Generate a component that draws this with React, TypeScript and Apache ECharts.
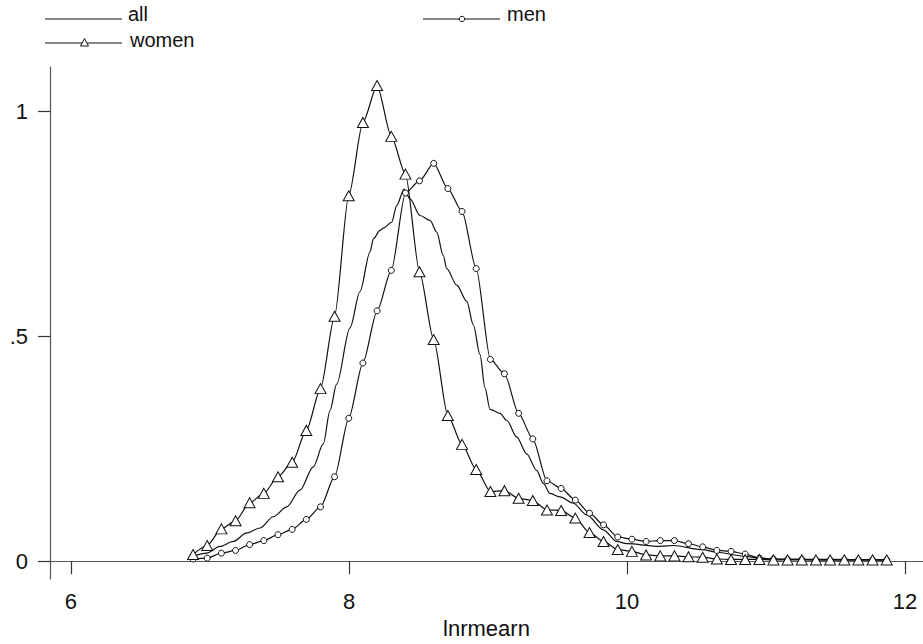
import React, { useEffect, useRef } from "react";
import * as echarts from "echarts";

// kernel density evaluation grid (50 points) shared by men / women
const gridX = [
  6.878, 6.98, 7.082, 7.184, 7.285, 7.387, 7.489, 7.591, 7.693, 7.795,
  7.896, 7.998, 8.1, 8.202, 8.304, 8.406, 8.507, 8.609, 8.711, 8.813,
  8.915, 9.017, 9.118, 9.22, 9.322, 9.424, 9.526, 9.628, 9.73, 9.831,
  9.933, 10.035, 10.137, 10.239, 10.341, 10.442, 10.544, 10.646, 10.748, 10.85,
  10.952, 11.053, 11.155, 11.257, 11.359, 11.461, 11.563, 11.664, 11.766, 11.868,
];

const womenY = [
  0.015, 0.035, 0.072, 0.09, 0.13, 0.151, 0.188, 0.22, 0.291, 0.384,
  0.545, 0.813, 0.976, 1.058, 0.945, 0.861, 0.644, 0.493, 0.324, 0.26,
  0.204, 0.155, 0.157, 0.14, 0.135, 0.114, 0.113, 0.096, 0.064, 0.044,
  0.026, 0.022, 0.014, 0.012, 0.012, 0.01, 0.009, 0.005, 0.004, 0.004,
  0.004, 0.003, 0.003, 0.003, 0.003, 0.003, 0.003, 0.003, 0.003, 0.003,
];

const menY = [
  0.005, 0.007, 0.018, 0.024, 0.037, 0.046, 0.059, 0.071, 0.093, 0.121,
  0.188, 0.318, 0.441, 0.557, 0.647, 0.819, 0.846, 0.885, 0.829, 0.778,
  0.651, 0.449, 0.417, 0.329, 0.272, 0.179, 0.162, 0.136, 0.107, 0.081,
  0.054, 0.049, 0.044, 0.046, 0.046, 0.039, 0.032, 0.024, 0.022, 0.016,
  0.007, 0.005, 0.004, 0.004, 0.003, 0.003, 0.003, 0.003, 0.003, 0.003,
];

// "all" curve (no markers), read along its path
const allX = [
  6.88, 6.976, 7.072, 7.168, 7.264, 7.36, 7.455, 7.552, 7.647, 7.743,
  7.815, 7.863, 7.911, 8.007, 8.079, 8.151, 8.175, 8.223, 8.247, 8.307,
  8.343, 8.396, 8.439, 8.511, 8.583, 8.631, 8.678, 8.703, 8.775, 8.847,
  8.894, 8.942, 8.978, 9.014, 9.086, 9.135, 9.207, 9.278, 9.35, 9.398,
  9.446, 9.518, 9.614, 9.71, 9.83, 9.926, 9.998, 10.237, 10.333, 10.542,
  10.645, 10.849, 10.95, 11.05, 11.45, 11.868,
];
const allY = [
  0.011, 0.018, 0.033, 0.044, 0.063, 0.074, 0.099, 0.121, 0.158, 0.21,
  0.261, 0.335, 0.394, 0.519, 0.6, 0.688, 0.717, 0.736, 0.741, 0.754,
  0.791, 0.828, 0.806, 0.769, 0.758, 0.732, 0.68, 0.651, 0.614, 0.578,
  0.526, 0.46, 0.386, 0.338, 0.329, 0.313, 0.276, 0.239, 0.202, 0.173,
  0.151, 0.143, 0.129, 0.103, 0.07, 0.044, 0.039, 0.033, 0.035, 0.026,
  0.02, 0.011, 0.007, 0.005, 0.004, 0.003,
];

const xTicks = [6, 8, 10, 12];
const yTicks = [0, 0.5, 1];
const yTickLabels = ["0", ".5", "1"];
const seriesNames = ["all", "men", "women"];
const xAxisTitle = "lnrmearn";

const FONT = "'Liberation Sans', Arial, Helvetica, sans-serif";
const INK = "#111";

export default function App() {
  const ref = useRef<HTMLDivElement>(null);

  useEffect(() => {
    if (!ref.current) return;
    const chart = echarts.init(ref.current, undefined, { renderer: "svg" });

    const lineStyle = { color: INK, width: 1.2 };
    const legendText = (text: string, x: number, y: number) => ({
      type: "text",
      x,
      y,
      style: { text, fill: INK, font: `20px ${FONT}`, verticalAlign: "middle", align: "left" },
    });
    const legendLine = (x1: number, x2: number, y: number) => ({
      type: "line",
      shape: { x1, y1: y, x2, y2: y },
      style: { stroke: INK, lineWidth: 1.2 },
    });

    chart.setOption({
      animation: false,
      backgroundColor: "#fff",
      textStyle: { fontFamily: FONT },
      grid: { left: 50, top: 67, right: 0, bottom: 61, containLabel: false },
      xAxis: {
        type: "value",
        min: 5.849,
        max: 12.129,
        name: xAxisTitle,
        nameLocation: "middle",
        nameGap: 36,
        nameTextStyle: { color: INK, fontSize: 22, fontFamily: FONT },
        axisLine: { show: true, lineStyle: { color: "#555", width: 1.2 } },
        axisTick: { show: true, length: 13, customValues: xTicks, lineStyle: { color: "#333", width: 1.2 } },
        axisLabel: { customValues: xTicks, margin: 11, color: INK, fontSize: 22, fontFamily: FONT },
        splitLine: { show: false },
      },
      yAxis: {
        type: "value",
        min: -0.0397,
        max: 1.0993,
        axisLine: { show: true, lineStyle: { color: "#555", width: 1.2 } },
        axisTick: { show: true, length: 12, customValues: yTicks, lineStyle: { color: "#333", width: 1.2 } },
        axisLabel: {
          customValues: yTicks,
          margin: 22,
          color: INK,
          fontSize: 22,
          fontFamily: FONT,
          formatter: (v: number) => {
            const i = yTicks.indexOf(v);
            return i >= 0 ? yTickLabels[i] : "";
          },
        },
        splitLine: { show: false },
      },
      series: [
        {
          name: seriesNames[0],
          type: "line",
          data: allX.map((x, i) => [x, allY[i]]),
          symbol: "none",
          showSymbol: false,
          smooth: 0.3,
          smoothMonotone: "x",
          lineStyle,
          z: 2,
        },
        {
          name: seriesNames[1],
          type: "line",
          data: gridX.map((x, i) => [x, menY[i]]),
          symbol: "circle",
          symbolSize: 6,
          smooth: 0.25,
          smoothMonotone: "x",
          lineStyle,
          itemStyle: { color: "#fff", borderColor: INK, borderWidth: 1 },
          z: 3,
        },
        {
          name: seriesNames[2],
          type: "line",
          data: gridX.map((x, i) => [x, womenY[i]]),
          symbol: "triangle",
          symbolSize: [11, 10],
          smooth: 0.25,
          smoothMonotone: "x",
          lineStyle,
          itemStyle: { color: "#fff", borderColor: INK, borderWidth: 1 },
          z: 4,
        },
      ],
      graphic: [
        legendLine(45, 122, 19),
        legendText(seriesNames[0], 128, 14),
        legendLine(423, 500, 19),
        {
          type: "circle",
          shape: { cx: 462, cy: 19, r: 2.7 },
          style: { fill: "#fff", stroke: INK, lineWidth: 1 },
        },
        legendText(seriesNames[1], 507, 14),
        legendLine(45, 122, 43),
        {
          type: "polygon",
          shape: { points: [[84.5, 38.5], [80.5, 46], [88.5, 46]] },
          style: { fill: "#fff", stroke: INK, lineWidth: 1 },
        },
        legendText(seriesNames[2], 130, 39.5),
      ],
    });

    return () => chart.dispose();
  }, []);

  return (
    <div
      ref={ref}
      style={{ position: "fixed", left: 0, top: 0, width: 923, height: 644, background: "#fff" }}
    />
  );
}
